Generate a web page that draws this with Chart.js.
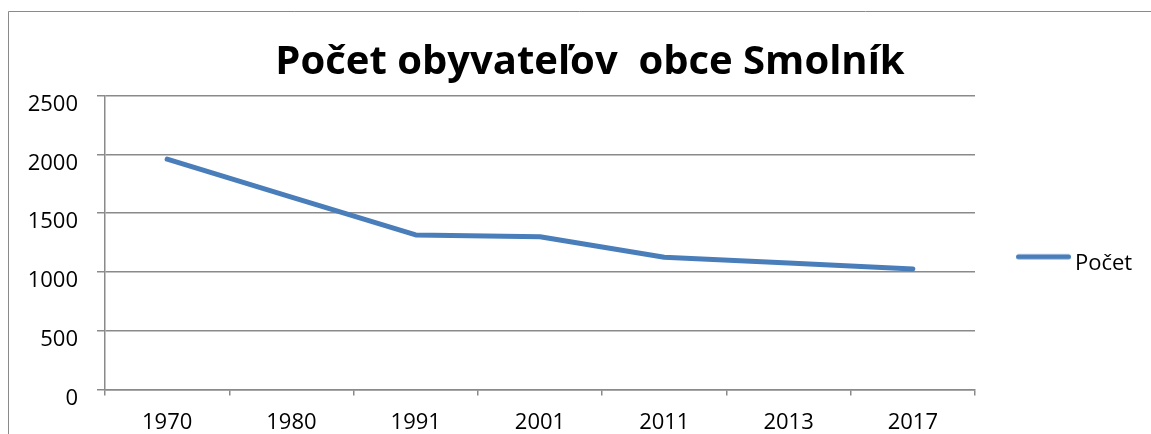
<!DOCTYPE html>
<html>
<head>
<meta charset="utf-8">
<script src="https://cdn.jsdelivr.net/npm/chart.js@4"></script>
<style>
  html, body { margin: 0; padding: 0; background: #fff; }
  #wrap { width: 1151px; height: 434px; }
</style>
</head>
<body>
<div id="wrap"><canvas id="chart" width="1151" height="434"></canvas></div>
<script>
// data
const roky = ['1970', '1980', '1991', '2001', '2011', '2013', '2017'];
const pocet = [1960, 1637, 1315, 1300, 1125, 1076, 1026];
const nazovGrafu = 'Počet obyvateľov  obce Smolník';
const nazovRady = 'Počet';
const yMin = 0, yMax = 2500, yKrok = 500;

const gridColor = '#8a8a8a';
const lineColor = '#4a7ebb';
const pismo = 'Open Sans';

// legend settings
const legFont = 22, legPad = 48, legBox = 41;

// legend symbol: line sits a bit higher than the text middle
function legendLine() {
    const c = document.createElement('canvas');
    c.width = 55;
    c.height = 30;
    const g = c.getContext('2d');
    g.strokeStyle = lineColor;
    g.lineWidth = 5;
    g.lineCap = 'round';
    g.beginPath();
    g.moveTo(2.5, 8);
    g.lineTo(52.5, 8);
    g.stroke();
    return c;
}

// thin outer frame like the cropped Excel chart
const frame = {
    id: 'frame',
    afterDraw(chart) {
        const ctx = chart.ctx;
        ctx.save();
        ctx.strokeStyle = gridColor;
        ctx.lineWidth = 1;
        ctx.beginPath();
        ctx.moveTo(8.5, 434);
        ctx.lineTo(8.5, 11.5);
        ctx.lineTo(1151, 11.5);
        ctx.stroke();
        ctx.restore();
    }
};

const ctx = document.getElementById('chart').getContext('2d');

// legend width = 10 + padding + box + font/2 + text, plot should end at x=975
ctx.font = legFont + 'px "' + pismo + '"';
const legW = 10 + legPad + legBox + legFont / 2 + ctx.measureText(nazovRady).width;
const padR = 1151 - 975 - legW;
const padL = padR + 29; // keeps the title centred where the original has it

new Chart(ctx, {
    type: 'line',
    data: {
        labels: roky,
        datasets: [{
            label: nazovRady,
            data: pocet,
            borderColor: lineColor,
            backgroundColor: lineColor,
            borderWidth: 5,
            borderCapStyle: 'round',
            borderJoinStyle: 'round',
            pointRadius: 0,
            tension: 0
        }]
    },
    plugins: [frame],
    options: {
        responsive: false,
        animation: false,
        layout: {
            padding: { left: padL, right: padR, top: 0, bottom: 0 }
        },
        plugins: {
            title: {
                display: true,
                text: nazovGrafu,
                color: '#000',
                font: { family: pismo, size: 40, weight: 'bold', lineHeight: 1.2 },
                padding: { top: 38.8, bottom: 8.9 }
            },
            legend: {
                position: 'right',
                fullSize: false,
                title: {
                    display: true,
                    text: '',
                    font: { size: 10, lineHeight: 1 },
                    padding: { top: 0, bottom: 32.4 }
                },
                labels: {
                    color: '#000',
                    font: { family: pismo, size: legFont },
                    usePointStyle: true,
                    pointStyle: legendLine(),
                    pointStyleWidth: legBox,
                    padding: legPad
                }
            },
            tooltip: { enabled: false }
        },
        scales: {
            x: {
                offset: true,
                afterFit(scale) { scale.height = 44.5; },
                grid: {
                    offset: true,
                    drawOnChartArea: false,
                    drawTicks: true,
                    tickLength: 6,
                    color: gridColor,
                    lineWidth: 1.5
                },
                border: { display: true, color: gridColor, width: 1.5 },
                ticks: {
                    color: '#000',
                    font: { family: pismo, size: 22 },
                    padding: 14,
                    maxRotation: 0
                }
            },
            y: {
                min: yMin,
                max: yMax,
                afterFit(scale) {
                    scale.width = 105 - padL;
                    // labels stick out to the left of the narrow axis box, don't clip them
                    scale._computeLabelArea = () => undefined;
                },
                grid: {
                    color: gridColor,
                    lineWidth: 1.5,
                    tickLength: 8
                },
                border: { display: true, color: gridColor, width: 1.5 },
                ticks: {
                    stepSize: yKrok,
                    color: '#000',
                    font: { family: pismo, size: 22 },
                    padding: 19,
                    labelOffset: 9,
                    callback: v => String(v)
                }
            }
        }
    }
});
</script>
</body>
</html>
